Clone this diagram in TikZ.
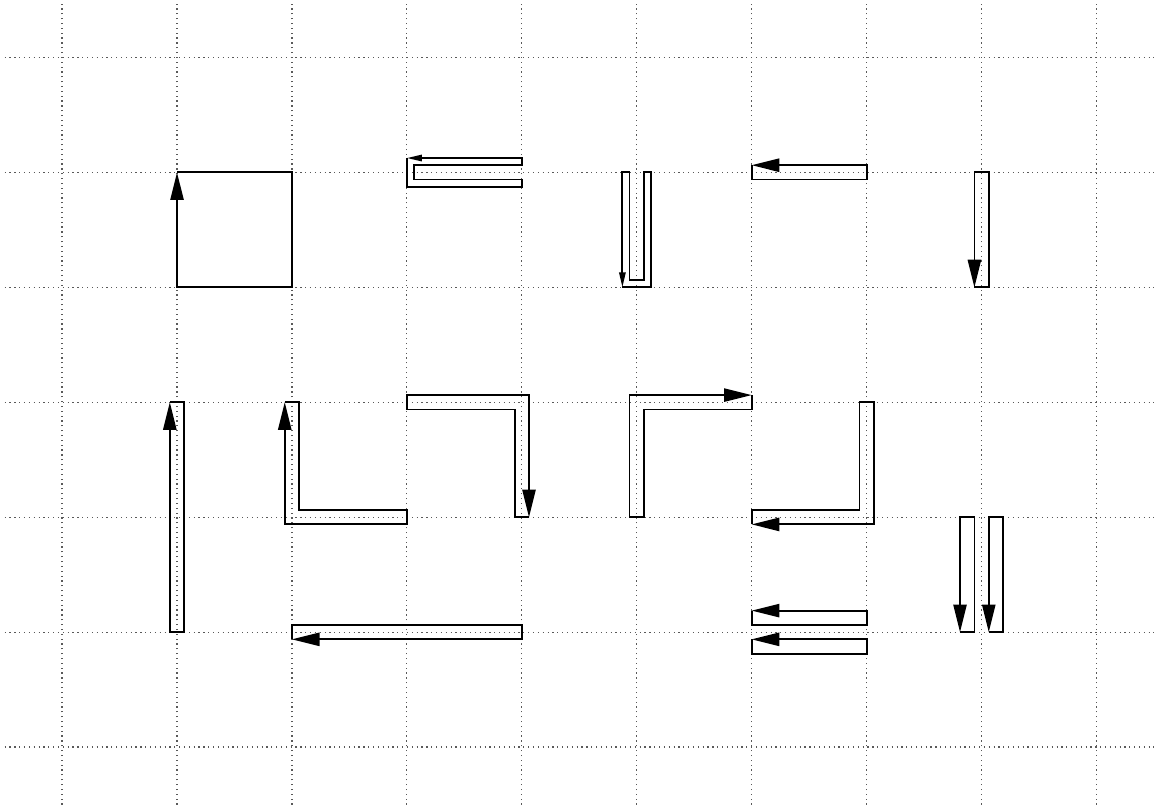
\documentclass[tikz,border=0pt]{standalone}
\usepackage{tikz}
\usetikzlibrary{arrows.meta}
\tikzset{
	gridline/.style={line width=0.3pt, black!65, dash pattern=on 0.3pt off 0.9pt},
	bigarr/.style={-{Triangle[length=2.4mm,width=1.15mm]}},
	smallarr/.style={-{Triangle[length=1.3mm,width=0.55mm]}}
}

\begin{document}
\begin{tikzpicture}[
		line width=0.45pt,
		line cap=butt,
		line join=miter
		]
		\useasboundingbox (-0.54,-0.52) rectangle (9.5,6.5);
		
		% dotted grid
		\foreach \x in {0,...,9} {
			\draw[gridline] (\x,-0.5) -- (\x,6.5);
		}
		\foreach \y in {0,...,6} {
			\draw[gridline] (-0.5,\y) -- (9.5,\y);
		}
		
		% top row
		\draw[bigarr] (1,5) -- (2,5) -- (2,4) -- (1,4) -- (1,5);
		\draw[smallarr] (3,5.125) -- (3,4.875) -- (4,4.875) -- (4,4.9375) -- (3.0625,4.9375)
			-- (3.0625,5.0625) -- (4,5.0625) -- (4,5.125) -- (3,5.125);
		\draw[smallarr] (4.875,4) -- (5.125,4) -- (5.125,5) -- (5.0625,5) -- (5.0625,4.0625)
			-- (4.9375,4.0625) -- (4.9375,5) -- (4.875,5) -- (4.875,4);
		\draw[bigarr] (6,5.0625) -- (6,4.9375) -- (7,4.9375) -- (7,5.0625) -- (6,5.0625);
		\draw[bigarr] (7.9375,4) -- (8.0625,4) -- (8.0625,5) -- (7.9375,5) -- (7.9375,4);
		
		% middle row
		\draw[bigarr] (0.9375,3) -- (1.0625,3) -- (1.0625,1) -- (0.9375,1) -- (0.9375,3);
		\draw[bigarr] (1.9375,3) -- (2.0625,3) -- (2.0625,2.0625) -- (3,2.0625) -- (3,1.9375)
			-- (1.9375,1.9375) -- (1.9375,3);
		\draw[bigarr] (4.0625,2) -- (3.9375,2) -- (3.9375,2.9375) -- (3,2.9375) -- (3,3.0625)
			-- (4.0625,3.0625) -- (4.0625,2);
		\draw[bigarr] (6,3.0625) -- (6,2.9375) -- (5.0625,2.9375) -- (5.0625,2) -- (4.9375,2)
			-- (4.9375,3.0625) -- (6,3.0625);
		\draw[bigarr] (6,1.9375) -- (6,2.0625) -- (6.9375,2.0625) -- (6.9375,3) -- (7.0625,3)
			-- (7.0625,1.9375) -- (6,1.9375);
		
		% bottom row
		\foreach \dx in {0,0.25} {
			\draw[bigarr, xshift=\dx cm] (7.8125,1) -- (7.9375,1) -- (7.9375,2) -- (7.8125,2) -- (7.8125,1);
		}
		\draw[bigarr] (2,0.9375) -- (2,1.0625) -- (4,1.0625) -- (4,0.9375) -- (2,0.9375);
		\foreach \dy in {0,-0.25} {
			\draw[bigarr, yshift=\dy cm] (6,1.1875) -- (6,1.0625) -- (7,1.0625) -- (7,1.1875) -- (6,1.1875);
		}
		
	\end{tikzpicture}
\end{document}
